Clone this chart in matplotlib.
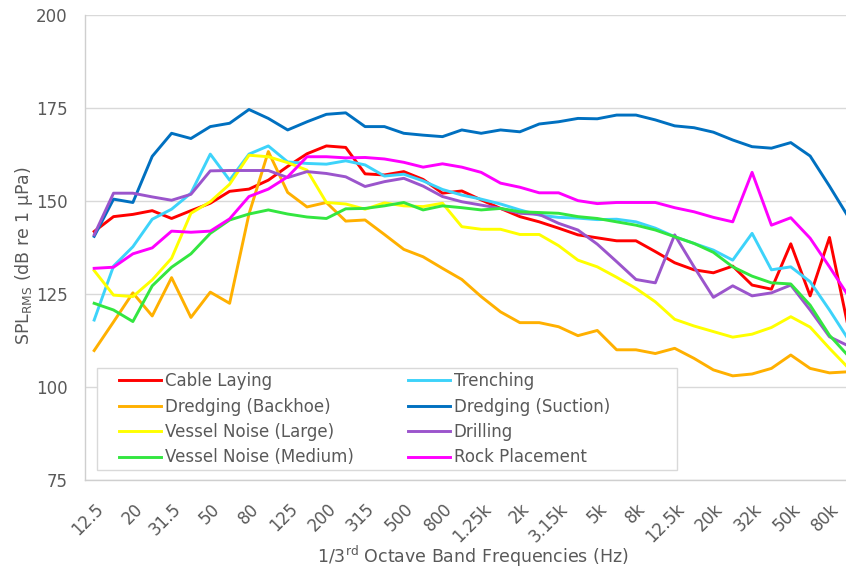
import matplotlib
matplotlib.use("Agg")
import matplotlib.pyplot as plt
from matplotlib.patches import Rectangle
from matplotlib.transforms import ScaledTranslation

plt.rcParams['font.family'] = ['DejaVu Sans']

bands = ["12.5", "16", "20", "25", "31.5", "40", "50", "63", "80", "100",
         "125", "160", "200", "250", "315", "400", "500", "630", "800", "1k",
         "1.25k", "1.6k", "2k", "2.5k", "3.15k", "4k", "5k", "6.3k", "8k", "10k",
         "12.5k", "16k", "20k", "25k", "32k", "40k", "50k", "63k", "80k", "100k"]

cable_laying = [141.8, 145.8, 146.4, 147.4, 145.3, 147.4, 149.4, 152.6, 153.2, 155.6,
                159.3, 162.7, 164.8, 164.4, 157.3, 157.0, 157.9, 155.8, 152.1, 152.7,
                150.3, 148.0, 145.8, 144.4, 142.7, 140.9, 140.1, 139.3, 139.3, 136.4,
                133.4, 131.5, 130.7, 132.5, 127.4, 126.3, 138.5, 124.5, 140.2, 115.3]
trenching = [118.0, 132.5, 137.7, 145.1, 147.8, 152.1, 162.6, 155.6, 162.6, 164.8,
             160.5, 160.1, 159.9, 160.8, 159.7, 156.7, 157.2, 155.4, 153.1, 151.6,
             150.5, 149.2, 147.6, 146.2, 145.6, 145.4, 145.0, 145.1, 144.4, 142.7,
             140.4, 138.6, 136.8, 134.1, 141.3, 131.5, 132.3, 128.3, 120.7, 112.6]
dredging_backhoe = [109.8, 117.5, 125.3, 119.1, 129.4, 118.7, 125.5, 122.5, 146.5, 163.3,
                    152.3, 148.4, 149.6, 144.6, 144.9, 141.0, 137.0, 135.0, 131.9, 128.9,
                    124.3, 120.2, 117.3, 117.3, 116.2, 113.8, 115.2, 110.0, 110.0, 109.0,
                    110.4, 107.7, 104.6, 103.0, 103.5, 105.0, 108.6, 105.0, 103.8, 104.1]
dredging_suction = [140.5, 150.5, 149.6, 162.0, 168.2, 166.8, 170.0, 170.9, 174.6, 172.2,
                    169.1, 171.3, 173.3, 173.7, 170.0, 170.0, 168.2, 167.7, 167.3, 169.1,
                    168.2, 169.1, 168.6, 170.7, 171.3, 172.2, 172.1, 173.1, 173.1, 171.8,
                    170.2, 169.7, 168.5, 166.4, 164.6, 164.2, 165.7, 162.1, 154.0, 145.5]
vessel_large = [131.3, 124.7, 124.3, 128.8, 134.6, 146.7, 149.8, 154.5, 162.3, 161.9,
                160.3, 158.3, 149.6, 149.2, 147.8, 149.5, 148.7, 148.5, 149.4, 143.1,
                142.4, 142.4, 141.0, 141.0, 138.0, 134.1, 132.3, 129.5, 126.5, 122.9,
                118.2, 116.4, 114.9, 113.4, 114.2, 116.0, 118.9, 116.1, 110.4, 105.0]
drilling = [140.9, 152.1, 152.1, 151.1, 150.2, 151.8, 158.1, 158.2, 158.2, 158.2,
            156.3, 157.9, 157.4, 156.5, 153.9, 155.2, 156.1, 154.0, 151.2, 149.8,
            148.9, 148.0, 146.7, 146.4, 144.0, 142.2, 138.4, 133.7, 128.9, 128.0,
            140.9, 132.3, 124.1, 127.2, 124.5, 125.3, 127.4, 120.7, 113.5, 111.0]
vessel_medium = [122.5, 120.7, 117.6, 127.2, 132.2, 135.8, 141.3, 144.9, 146.5, 147.6,
                 146.5, 145.7, 145.3, 147.9, 148.0, 148.7, 149.6, 147.6, 148.7, 148.2,
                 147.6, 148.0, 147.1, 146.9, 146.7, 145.8, 145.3, 144.4, 143.5, 142.2,
                 140.4, 138.6, 136.2, 132.3, 129.8, 128.0, 127.7, 122.0, 113.9, 108.2]
rock_placement = [131.9, 132.2, 135.8, 137.4, 141.9, 141.6, 141.9, 145.2, 151.2, 153.2,
                  156.5, 161.9, 161.9, 161.6, 161.7, 161.3, 160.4, 159.1, 160.0, 159.1,
                  157.7, 154.8, 153.7, 152.2, 152.2, 150.1, 149.3, 149.6, 149.6, 149.6,
                  148.2, 147.1, 145.6, 144.4, 157.7, 143.5, 145.5, 140.0, 132.3, 124.3]

series_names = ["Cable Laying", "Trenching", "Dredging (Backhoe)", "Dredging (Suction)",
                "Vessel Noise (Large)", "Drilling", "Vessel Noise (Medium)", "Rock Placement"]
series_values = [cable_laying, trenching, dredging_backhoe, dredging_suction,
                 vessel_large, drilling, vessel_medium, rock_placement]
series_colors = ["#FF0000", "#3DD3FA", "#FFB000", "#0070C0",
                 "#FFFF00", "#9B55CC", "#33E640", "#FF00FF"]

W, H = 846, 576
fig = plt.figure(figsize=(W / 100, H / 100), dpi=100)
left_px, right_px, top_px, bottom_px = 84.5, 858.5, 15, 480
ax = fig.add_axes([left_px / W, 1 - bottom_px / H,
                   (right_px - left_px) / W, (bottom_px - top_px) / H])

x = list(range(len(bands)))
handles = {}
for name, vals, col in zip(series_names, series_values, series_colors):
    ln, = ax.plot(x, vals, color=col, lw=2.1, label=name, solid_joinstyle='round')
    handles[name] = ln

ax.set_xlim(-0.5, len(bands) - 0.5)
ax.set_ylim(75, 200)
ax.set_yticks([75, 100, 125, 150, 175, 200])
ax.grid(axis='y', color='#D9D9D9', lw=1.0)
ax.set_axisbelow(True)
for s in ['top', 'right']:
    ax.spines[s].set_visible(False)
for s in ['left', 'bottom']:
    ax.spines[s].set_color('#CFCFCF')
    ax.spines[s].set_linewidth(1.0)

ax.tick_params(axis='y', length=0, pad=12, labelsize=12, labelcolor='#595959')
ax.set_xticks(x[::2])
ax.set_xticklabels(bands[::2])
ax.tick_params(axis='x', length=0, pad=19, labelsize=12, labelcolor='#595959')
offset = ScaledTranslation(7 / 100, 0, fig.dpi_scale_trans)
for lab in ax.get_xticklabels():
    lab.set_rotation(45)
    lab.set_ha('right')
    lab.set_va('center')
    lab.set_rotation_mode('anchor')
    lab.set_transform(lab.get_transform() + offset)

fig.text(24 / W, 1 - 256 / H, r'SPL$_{\mathregular{RMS}}$ (dB re 1 μPa)', rotation=90,
         ha='center', va='center', fontsize=12.5, color='#595959')
fig.text(473 / W, 1 - 556 / H, r'1/3$^{\mathregular{rd}}$ Octave Band Frequencies (Hz)',
         ha='center', va='center', fontsize=12.5, color='#595959')

# legend frame
lx0, ly0, lx1, ly1 = 97, 368, 677, 470
fig.patches.append(Rectangle((lx0 / W, 1 - ly1 / H), (lx1 - lx0) / W, (ly1 - ly0) / H,
                             transform=fig.transFigure, facecolor='white',
                             edgecolor='#D9D9D9', lw=1.0, zorder=3))
order = ["Cable Laying", "Dredging (Backhoe)", "Vessel Noise (Large)", "Vessel Noise (Medium)",
         "Trenching", "Dredging (Suction)", "Drilling", "Rock Placement"]
leg = fig.legend([handles[n] for n in order], order, ncol=2, frameon=False,
                 loc='upper left', bbox_to_anchor=(119 / W, 1 - 372 / H),
                 fontsize=12, handlelength=2.5, handletextpad=0.25,
                 columnspacing=3.25, labelspacing=0.45, borderaxespad=0, borderpad=0)
for t in leg.get_texts():
    t.set_color('#595959')
leg.set_zorder(5)

fig.savefig('out.png', dpi=100)
